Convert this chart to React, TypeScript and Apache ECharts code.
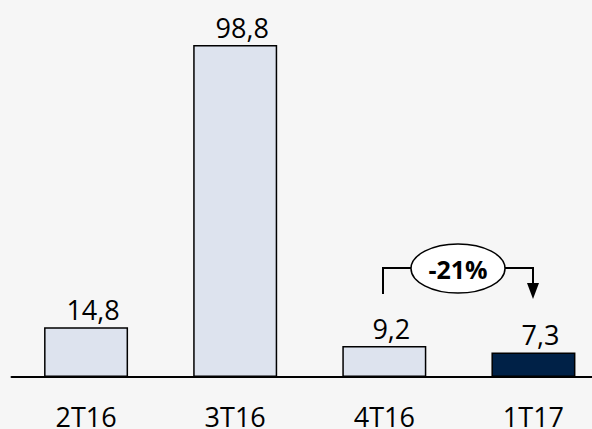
import React, { useEffect, useRef } from "react";
import * as echarts from "echarts";

const categories = ["2T16", "3T16", "4T16", "1T17"];
const values = [14.8, 98.8, 9.2, 7.3];
const barColors = ["#dde3ee", "#dde3ee", "#dde3ee", "#002147"];
const changeLabel = "-21%";

export default function App() {
  const ref = useRef<HTMLDivElement>(null);
  useEffect(() => {
    if (!ref.current) return;
    const chart = echarts.init(ref.current, null, { renderer: "svg" });
    const font = "'Open Sans', sans-serif";
    chart.setOption({
      animation: false,
      backgroundColor: "#f6f6f6",
      grid: {
        left: 11.5,
        width: 596.5,
        top: 41,
        height: 336,
        containLabel: false,
        outerBoundsMode: "none",
      },
      xAxis: {
        type: "category",
        data: categories,
        axisLine: { show: true, lineStyle: { color: "#000", width: 2 } },
        axisTick: { show: false },
        axisLabel: { color: "#000", fontSize: 27, fontFamily: font, margin: 26 },
      },
      yAxis: {
        type: "value",
        min: 0,
        max: 100,
        show: false,
        splitLine: { show: false },
      },
      series: [
        {
          type: "bar",
          barWidth: 84,
          data: values.map((v, i) => ({
            value: v,
            itemStyle: { color: barColors[i], borderColor: "#000", borderWidth: 1.5 },
          })),
          label: {
            show: true,
            position: "top",
            distance: 4,
            offset: [7, 0],
            color: "#000",
            fontSize: 27,
            fontFamily: font,
            formatter: (p: any) => String(p.value).replace(".", ","),
          },
        },
      ],
      graphic: [
        {
          type: "polyline",
          shape: { points: [[383, 294], [383, 268], [411, 268]] },
          style: { stroke: "#000", lineWidth: 2, fill: "none" },
        },
        {
          type: "polyline",
          shape: { points: [[505, 268], [533, 268], [533, 284]] },
          style: { stroke: "#000", lineWidth: 2, fill: "none" },
        },
        {
          type: "polygon",
          shape: { points: [[527, 283], [539, 283], [533, 299]] },
          style: { fill: "#000" },
        },
        {
          type: "ellipse",
          shape: { cx: 458, cy: 268.5, rx: 47, ry: 24.5 },
          style: { fill: "#fff", stroke: "#000", lineWidth: 1.5 },
        },
        {
          type: "text",
          x: 458,
          y: 269,
          style: {
            text: changeLabel,
            fontSize: 25,
            fontWeight: "bold",
            fontFamily: font,
            fill: "#000",
            align: "center",
            verticalAlign: "middle",
          },
        },
      ],
    });
    return () => chart.dispose();
  }, []);
  return (
    <div
      ref={ref}
      style={{ position: "absolute", left: 0, top: 0, width: 592, height: 429 }}
    />
  );
}
